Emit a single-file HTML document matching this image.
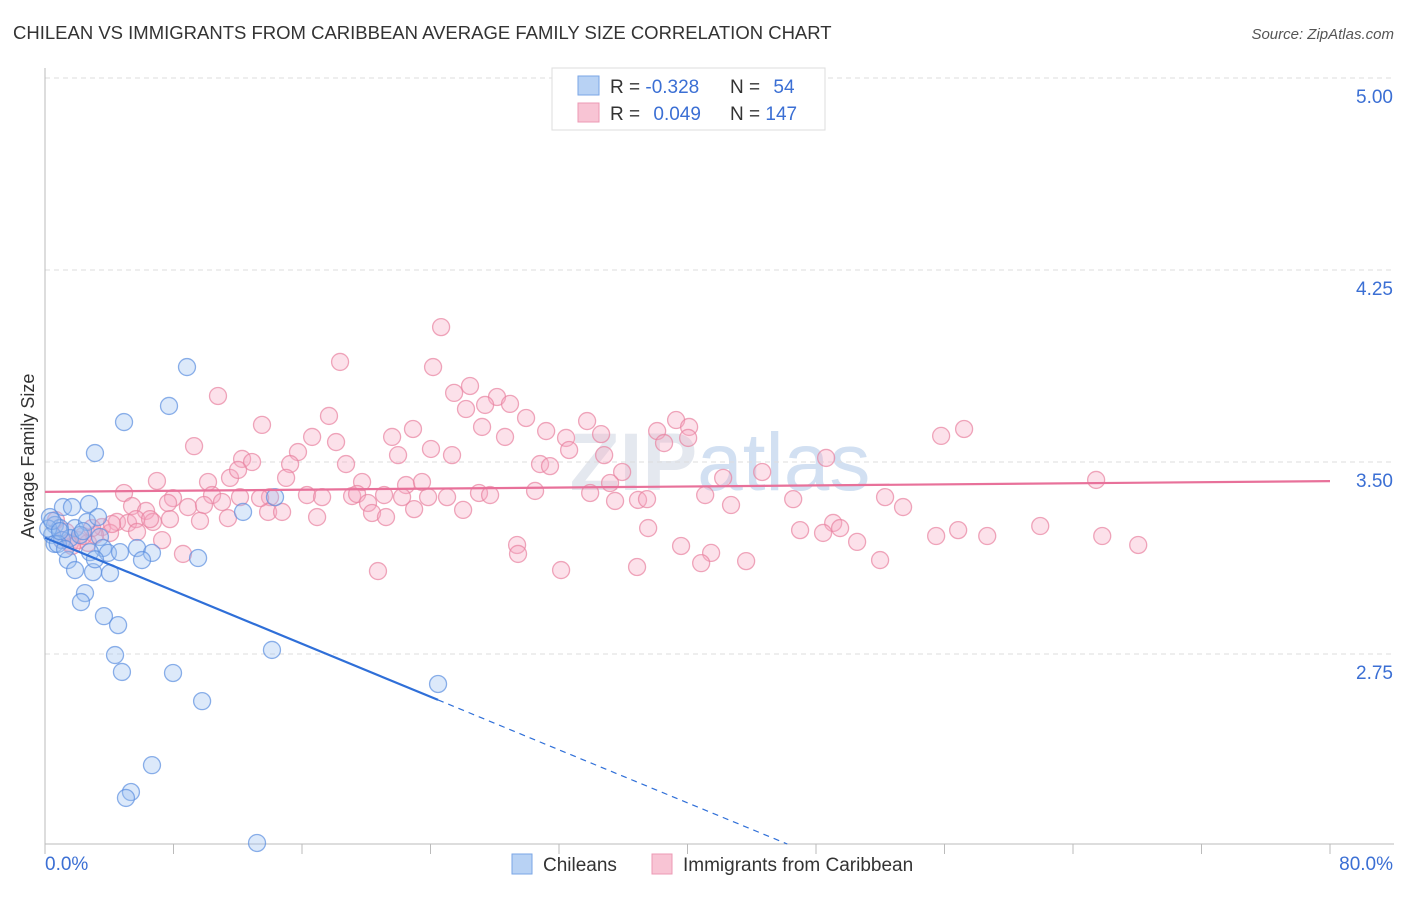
<!DOCTYPE html>
<html><head><meta charset="utf-8"><style>
body{margin:0;background:#fff;font-family:"Liberation Sans",sans-serif;}
svg text{font-family:"Liberation Sans",sans-serif;}
</style></head><body>
<svg id="chart" width="1406" height="892" xmlns="http://www.w3.org/2000/svg">
<text x="13" y="39" font-size="18.5" fill="#333">CHILEAN VS IMMIGRANTS FROM CARIBBEAN AVERAGE FAMILY SIZE CORRELATION CHART</text>
<text x="1394" y="39" font-size="15" fill="#555" text-anchor="end" font-style="italic">Source: ZipAtlas.com</text>
<text x="720" y="490" font-size="82" fill="#e4e8ef" text-anchor="middle" font-family="Liberation Serif" font-weight="bold">ZIP<tspan font-family="Liberation Sans" font-weight="normal" fill="#d2e0f2">atlas</tspan></text>
<g id="grid"></g>
<g id="axes"></g>
<g id="pinkPts"></g>
<g id="bluePts"></g>
<g id="trends"></g>
<text transform="translate(34,456) rotate(-90)" font-size="18" fill="#333" text-anchor="middle">Average Family Size</text>
<g>
<rect x="552" y="68" width="273" height="62" fill="#fff" stroke="#ddd"/>
<rect x="578" y="76" width="21" height="19" fill="#b8d2f4" stroke="#7aa6e6"/>
<rect x="578" y="103" width="21" height="19" fill="#f8c4d4" stroke="#ec9ab4"/>
<text x="610" y="93" font-size="19" fill="#333">R = <tspan fill="#3b6fd4">-0.328</tspan></text>
<text x="730" y="93" font-size="19" fill="#333">N = <tspan fill="#3b6fd4" dx="8">54</tspan></text>
<text x="610" y="120" font-size="19" fill="#333">R = <tspan fill="#3b6fd4" dx="8">0.049</tspan></text>
<text x="730" y="120" font-size="19" fill="#333">N = <tspan fill="#3b6fd4">147</tspan></text>
</g>
<g>
<rect x="512" y="854" width="20" height="20" fill="#b8d2f4" stroke="#7aa6e6"/>
<text x="543" y="871" font-size="19" fill="#333">Chileans</text>
<rect x="652" y="854" width="20" height="20" fill="#f8c4d4" stroke="#ec9ab4"/>
<text x="683" y="871" font-size="19" fill="#333">Immigrants from Caribbean</text>
</g>
</svg>
<script>
const blueX=[8.84,7.72,4.92,3.11,12.33,14.32,2.74,1.12,1.68,0.31,0.62,0.93,1.87,2.62,3.30,0.44,1.06,1.56,2.18,3.42,3.61,2.80,3.92,4.67,5.73,6.66,1.43,1.87,2.99,4.05,6.04,9.53,2.49,2.24,3.67,4.55,4.36,4.79,7.97,14.13,9.78,24.47,6.66,5.35,5.04,13.20,0.6,0.8,0.2,1.25,0.45,2.37,3.11,0.93];
const blueY=[3.871,3.719,3.656,3.535,3.305,3.363,3.336,3.324,3.324,3.285,3.254,3.242,3.242,3.266,3.285,3.215,3.195,3.203,3.215,3.207,3.164,3.148,3.145,3.148,3.164,3.145,3.117,3.078,3.070,3.066,3.117,3.125,2.988,2.953,2.898,2.863,2.746,2.680,2.676,2.766,2.566,2.633,2.316,2.211,2.188,2.012,3.18,3.18,3.24,3.16,3.27,3.23,3.12,3.23];
const pinkX=[24.66,18.37,24.16,26.46,10.77,25.47,28.14,26.21,27.40,28.95,17.68,29.95,33.75,13.51,39.29,40.10,22.91,55.79,57.22,9.28,16.63,21.61,27.21,28.64,31.20,32.44,34.62,38.11,40.04,38.54,24.03,25.34,12.27,32.63,15.75,21.98,18.12,12.89,15.26,18.74,30.82,31.44,34.81,48.63,35.93,44.65,42.22,10.15,6.97,11.52,12.02,15.01,19.74,22.48,23.47,35.18,4.92,10.40,7.97,12.14,14.01,16.31,17.25,19.12,19.43,21.11,22.23,23.85,25.03,27.02,27.71,30.51,33.94,35.49,36.92,37.48,41.10,42.71,46.58,52.30,53.42,65.44,5.42,6.29,7.66,8.90,9.90,11.02,13.89,14.76,16.94,20.11,20.36,21.23,22.98,26.03,7.78,9.65,11.39,3.55,4.48,5.17,5.67,6.72,4.05,5.73,7.29,2.05,2.68,1.06,1.56,0.68,37.55,47.01,49.07,49.50,48.44,50.56,55.48,56.85,58.66,61.96,65.82,68.06,29.39,29.45,39.60,41.47,40.85,43.65,36.86,32.13,20.73,51.99,8.59,1.68,3.11,1.31,2.37,4.17,6.54,13.39,2.93];
const pinkY=[4.027,3.891,3.871,3.797,3.758,3.770,3.754,3.707,3.723,3.727,3.680,3.672,3.660,3.645,3.664,3.637,3.629,3.602,3.629,3.562,3.598,3.598,3.637,3.598,3.621,3.594,3.609,3.621,3.594,3.574,3.551,3.527,3.512,3.547,3.539,3.527,3.578,3.500,3.492,3.492,3.492,3.484,3.527,3.516,3.461,3.461,3.438,3.422,3.426,3.438,3.469,3.438,3.422,3.410,3.422,3.418,3.379,3.371,3.359,3.363,3.363,3.371,3.363,3.367,3.375,3.371,3.363,3.363,3.363,3.379,3.371,3.387,3.379,3.348,3.352,3.355,3.371,3.332,3.355,3.363,3.324,3.430,3.328,3.309,3.340,3.324,3.332,3.344,3.305,3.305,3.285,3.340,3.301,3.285,3.316,3.313,3.277,3.270,3.281,3.246,3.266,3.262,3.277,3.266,3.223,3.227,3.195,3.195,3.184,3.195,3.184,3.273,3.242,3.234,3.262,3.242,3.223,3.188,3.211,3.234,3.211,3.250,3.211,3.176,3.176,3.141,3.172,3.145,3.105,3.113,3.090,3.078,3.074,3.117,3.141,3.172,3.215,3.227,3.211,3.258,3.277,3.359,3.242];
const yTicks=[5.00,4.25,3.50,2.75];
const yTickLabels=["5.00","4.25","3.50","2.75"];
const xTicks=[0,8,16,24,32,40,48,56,64,72,80];
const NS="http://www.w3.org/2000/svg";
const X0=45,X1=1330,YTOP=78,YBOT=844,YMAX=5.0,YMIN=2.008;
const sx=v=>X0+(v/80)*(X1-X0);
const sy=v=>YTOP+(YMAX-v)/(YMAX-YMIN)*(YBOT-YTOP);
function mk(tag,attrs,parent){const e=document.createElementNS(NS,tag);for(const k in attrs)e.setAttribute(k,attrs[k]);parent.appendChild(e);return e;}
const grid=document.getElementById('grid'),axes=document.getElementById('axes');
yTicks.forEach((t,i)=>{
  const l=mk('line',{x1:X0,x2:1394,y1:sy(t),y2:sy(t),stroke:'#ddd','stroke-dasharray':'5,4'},grid);
  
  
  const tx=mk('text',{x:1393,y:sy(t)+25,'font-size':19,fill:'#3b6fd4','text-anchor':'end'},axes);
  tx.textContent=yTickLabels[i];
  
  
});
mk('line',{x1:X0,x2:X0,y1:68,y2:YBOT,stroke:'#bbb'},axes);
mk('line',{x1:X0,x2:1394,y1:YBOT,y2:YBOT,stroke:'#bbb'},axes);
xTicks.forEach(t=>{
  const l=mk('line',{x1:sx(t),x2:sx(t),y1:YBOT,y2:YBOT+10,stroke:'#bbb'},axes);
  
  
});
const xl=mk('text',{x:45,y:870,'font-size':19,fill:'#3b6fd4'},axes);xl.textContent='0.0%';


const xr=mk('text',{x:1393,y:870,'font-size':19,fill:'#3b6fd4','text-anchor':'end'},axes);xr.textContent='80.0%';


function pts(xs,ys,g,fill,stroke,name){xs.forEach((x,i)=>{
  const c=mk('circle',{cx:sx(x),cy:sy(ys[i]),r:8.5,fill:fill,'fill-opacity':0.35,stroke:stroke,'stroke-opacity':0.7,'stroke-width':1.3},g);
  
  
});}
pts(pinkX,pinkY,document.getElementById('pinkPts'),'#f5a9c2','#e8829f','caribbean-point');
pts(blueX,blueY,document.getElementById('bluePts'),'#9cc0f0','#5b8fe0','chilean-point');
function fit(xs,ys){const n=xs.length;let mx=0,my=0;for(let i=0;i<n;i++){mx+=xs[i];my+=ys[i];}mx/=n;my/=n;let a=0,b=0;for(let i=0;i<n;i++){a+=(xs[i]-mx)*(ys[i]-my);b+=(xs[i]-mx)**2;}const s=a/b;return[s,my-s*mx];}
const tr=document.getElementById('trends');
const [ps,pi]=fit(pinkX,pinkY);
const pl=mk('line',{x1:sx(0),y1:sy(pi),x2:sx(80),y2:sy(pi+ps*80),stroke:'#e8719a','stroke-width':2.2},tr);


const [bs,bi]=fit(blueX,blueY);
const bmax=Math.max(...blueX);
const bl=mk('line',{x1:sx(0),y1:sy(bi),x2:sx(bmax),y2:sy(bi+bs*bmax),stroke:'#2f6fd8','stroke-width':2.2},tr);


let xe=bs<0?Math.min(80,(YMIN-bi)/bs):80;
const bd=mk('line',{x1:sx(bmax),y1:sy(bi+bs*bmax),x2:sx(xe),y2:sy(bi+bs*xe),stroke:'#2f6fd8','stroke-width':1.2,'stroke-dasharray':'6,5'},tr);


</script>
</body></html>
